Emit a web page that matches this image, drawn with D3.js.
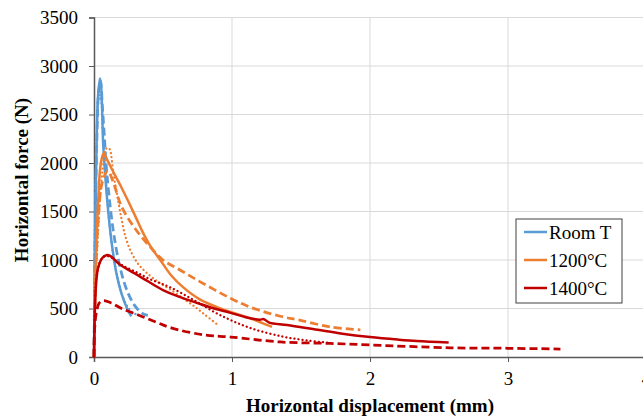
<!DOCTYPE html>
<html>
<head>
<meta charset="utf-8">
<script src="https://cdn.jsdelivr.net/npm/d3@7/dist/d3.min.js"></script>
<style>
  html, body { margin: 0; padding: 0; background: #fff; }
  svg { display: block; }
  svg text { font-family: "Liberation Serif", "Times New Roman", serif; fill: #000; }
</style>
</head>
<body>
<svg id="chart" width="643" height="419"></svg>
<script>
// ---- Data (x: horizontal displacement mm, y: horizontal force N) ----
const xTicks = [0, 1, 2, 3, 4];
const yTicks = [0, 500, 1000, 1500, 2000, 2500, 3000, 3500];
const legendLabels = ["Room T", "1200°C", "1400°C"];

const roomT_solid = [[0,0],[0.005,800],[0.012,1600],[0.02,2300],[0.03,2700],[0.043,2870],[0.052,2780],[0.06,2500],[0.065,2240],[0.08,1900],[0.1,1550],[0.125,1210],[0.16,880],[0.2,650],[0.24,500],[0.27,420]];
const roomT_dash  = [[0,0],[0.008,1200],[0.02,2200],[0.035,2750],[0.048,2850],[0.06,2600],[0.075,2280],[0.09,1950],[0.11,1650],[0.14,1300],[0.18,980],[0.23,720],[0.29,540],[0.35,450],[0.39,430]];
const roomT_dot   = [[0,0],[0.006,1400],[0.02,2300],[0.035,2700],[0.05,2650],[0.065,2300],[0.085,1850],[0.1,1550],[0.13,1150],[0.17,820],[0.22,580],[0.27,470],[0.32,430]];

const t1200_solid = [[0,0],[0.01,800],[0.03,1600],[0.05,2000],[0.07,2100],[0.1,2020],[0.15,1880],[0.2,1745],[0.25,1600],[0.3,1450],[0.35,1295],[0.41,1140],[0.48,1000],[0.56,840],[0.645,720],[0.76,600],[0.89,515],[1.0,460],[1.13,400],[1.22,350],[1.29,310]];
const t1200_dash  = [[0,0],[0.01,700],[0.03,1400],[0.06,1800],[0.1,1920],[0.14,1800],[0.2,1550],[0.3,1320],[0.41,1130],[0.5,1000],[0.62,900],[0.77,775],[0.99,605],[1.13,515],[1.35,420],[1.49,380],[1.71,310],[1.93,280]];
const t1200_dot   = [[0,0],[0.01,600],[0.03,1300],[0.06,1900],[0.09,2150],[0.11,2150],[0.14,1900],[0.17,1650],[0.2,1420],[0.23,1230],[0.27,1080],[0.32,960],[0.38,870],[0.47,770],[0.56,690],[0.65,600],[0.72,530],[0.8,440],[0.89,340]];

const t1400_solid = [[0,0],[0.005,400],[0.015,750],[0.03,920],[0.06,1020],[0.09,1050],[0.12,1040],[0.18,960],[0.26,890],[0.38,790],[0.5,690],[0.62,620],[0.75,556],[0.87,500],[0.99,455],[1.1,410],[1.2,385],[1.23,390],[1.27,355],[1.4,330],[1.62,280],[1.8,240],[2.0,206],[2.2,180],[2.34,165],[2.57,150]];
const t1400_dash  = [[0,0],[0.005,300],[0.02,480],[0.04,560],[0.07,580],[0.12,560],[0.2,500],[0.32,433],[0.45,360],[0.56,300],[0.8,227],[0.99,206],[1.35,155],[1.71,140],[2.0,124],[2.58,95],[3.0,90],[3.38,82]];
const t1400_dot   = [[0,0],[0.005,500],[0.02,850],[0.05,1000],[0.08,1040],[0.12,1030],[0.2,950],[0.3,880],[0.41,800],[0.55,720],[0.72,590],[0.91,435],[1.13,300],[1.37,210],[1.55,170],[1.71,145]];

// ---- Styles ----
const colors = ["#5B9BD5", "#ED7D31", "#C00000"];
const series = [
  {data: roomT_solid, c: 0, type: "solid"},
  {data: roomT_dash,  c: 0, type: "dash"},
  {data: roomT_dot,   c: 0, type: "dot"},
  {data: t1200_solid, c: 1, type: "solid"},
  {data: t1200_dash,  c: 1, type: "dash"},
  {data: t1200_dot,   c: 1, type: "dot"},
  {data: t1400_solid, c: 2, type: "solid"},
  {data: t1400_dash,  c: 2, type: "dash"},
  {data: t1400_dot,   c: 2, type: "dot"}
];

const svg = d3.select("#chart");
const W = 643, H = 419;
const plot = {left: 94, right: 646, top: 17.5, bottom: 357};
const serif = "Liberation Serif, Times New Roman, serif";

svg.append("rect").attr("width", W).attr("height", H).attr("fill", "#fff");

const x = d3.scaleLinear().domain([0, 4]).range([plot.left, plot.right]);
const y = d3.scaleLinear().domain([0, 3500]).range([plot.bottom, plot.top]);

// gridlines
svg.append("g").selectAll("line").data(yTicks.filter(d => d > 0)).join("line")
  .attr("x1", plot.left).attr("x2", plot.right)
  .attr("y1", d => y(d)).attr("y2", d => y(d))
  .attr("stroke", "#d9d9d9").attr("stroke-width", 1);
svg.append("g").selectAll("line").data(xTicks.filter(d => d > 0)).join("line")
  .attr("x1", d => x(d)).attr("x2", d => x(d))
  .attr("y1", plot.top).attr("y2", plot.bottom)
  .attr("stroke", "#d9d9d9").attr("stroke-width", 1);

// axes
const xAxis = d3.axisBottom(x).tickValues(xTicks).tickSize(5).tickFormat(d3.format("d"));
const yAxis = d3.axisLeft(y).tickValues(yTicks).tickSize(5).tickFormat(d3.format("d"));

const gx = svg.append("g").attr("transform", `translate(0,${plot.bottom})`).call(xAxis)
  .attr("font-family", serif);
gx.select(".domain").attr("stroke", "#595959").attr("stroke-width", 1.5);
gx.selectAll(".tick line").attr("stroke", "#595959");
gx.selectAll(".tick text").attr("font-size", 19).attr("dy", "1.05em").attr("fill", "#000");

const gy = svg.append("g").attr("transform", `translate(${plot.left},0)`).call(yAxis)
  .attr("font-family", serif);
gy.select(".domain").attr("stroke", "#595959").attr("stroke-width", 1.5);
gy.selectAll(".tick line").attr("stroke", "#595959");
gy.selectAll(".tick text").attr("font-size", 19).attr("x", -16).attr("fill", "#000");

// series
const line = d3.line().x(d => x(d[0])).y(d => y(d[1])).curve(d3.curveCatmullRom.alpha(0.5));
const g = svg.append("g");
series.forEach(s => {
  const p = g.append("path").datum(s.data).attr("d", line)
    .attr("fill", "none").attr("stroke", colors[s.c]).attr("stroke-linejoin", "round");
  if (s.type === "solid") p.attr("stroke-width", 2.5);
  if (s.type === "dash") p.attr("stroke-width", 2.75).attr("stroke-dasharray", "8,4");
  if (s.type === "dot") p.attr("stroke-width", 2.25).attr("stroke-dasharray", "0.1,4").attr("stroke-linecap", "round");
});

// axis titles
svg.append("text").attr("x", (plot.left + plot.right) / 2).attr("y", 412)
  .attr("text-anchor", "middle").attr("font-size", 19).attr("font-weight", "bold")
  .text("Horizontal displacement (mm)");
svg.append("text").attr("transform", "translate(28,180) rotate(-90)")
  .attr("text-anchor", "middle").attr("font-size", 19).attr("font-weight", "bold")
  .text("Horizontal force (N)");

// legend
const lg = svg.append("g");
lg.append("rect").attr("x", 516).attr("y", 219).attr("width", 106).attr("height", 84)
  .attr("fill", "#fff").attr("stroke", "#404040").attr("stroke-width", 1);
const ly = [232, 260, 288];
legendLabels.forEach((lab, i) => {
  lg.append("line").attr("x1", 524).attr("x2", 547).attr("y1", ly[i]).attr("y2", ly[i])
    .attr("stroke", colors[i]).attr("stroke-width", 2.5);
  lg.append("text").attr("x", 549).attr("y", ly[i]).attr("dy", "0.35em")
    .attr("font-size", 19).text(lab);
});
</script>
</body>
</html>
